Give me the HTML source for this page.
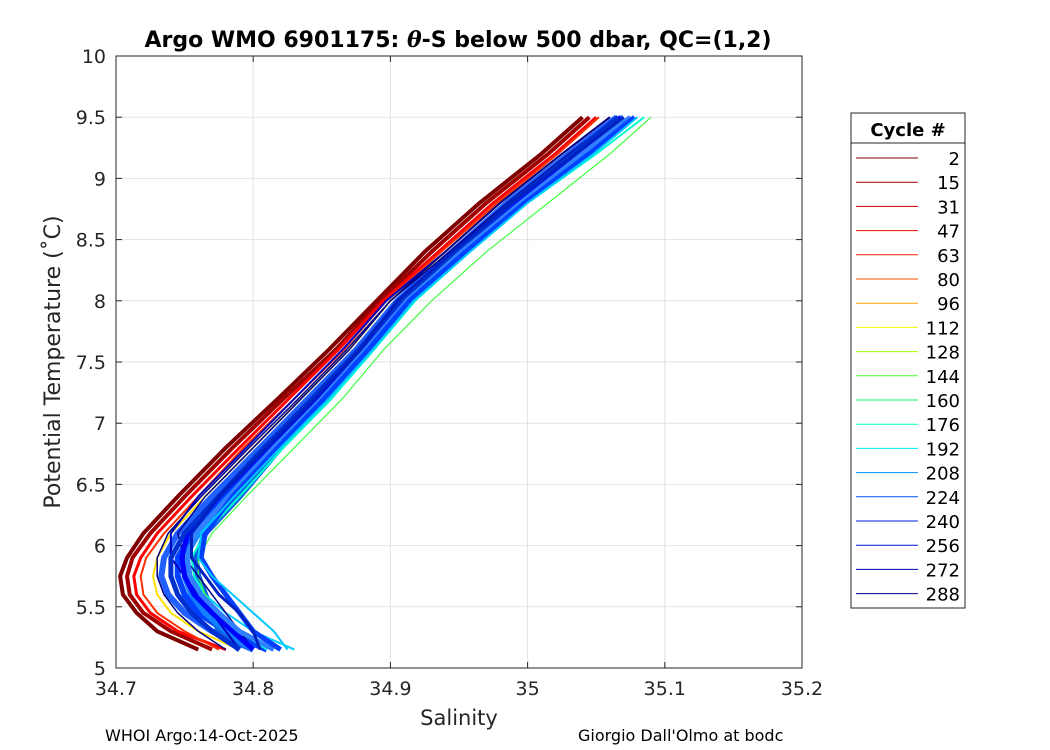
<!DOCTYPE html>
<html><head><meta charset="utf-8"><style>
body{margin:0;background:#fff;}
svg{display:block;font-family:"DejaVu Sans","Liberation Sans",sans-serif;}
</style></head><body>
<svg id="chart" width="1050" height="750"></svg>
<script>
const tempLevels=[5.15,5.3,5.45,5.6,5.75,5.9,6.1,6.4,6.8,7.2,7.6,8.0,8.4,8.8,9.2,9.5];
const profileColors=["#800000","#a00000","#ff0000","#ff3000","#ffe000","#2060ff","#0040ff","#0a60e0","#1080ff","#00d0ff","#00ffd0","#40ff40","#0000c0","#000090","#0000ff","#0030d0","#3080ff","#000080","#0040ff","#00c8ff","#0020c0"];
const profileWidths=[4,4,3,2,2,6,6,6,6,2,2,1.2,2,1.5,5,5,5,1.5,5,2,3];
const profileSal=[
[34.76,34.73,34.715,34.705,34.703,34.708,34.72,34.745,34.78,34.818,34.855,34.89,34.925,34.965,35.01,35.04],
[34.77,34.74,34.72,34.71,34.708,34.712,34.725,34.75,34.785,34.822,34.86,34.893,34.93,34.97,35.015,35.045],
[34.78,34.745,34.725,34.715,34.713,34.718,34.73,34.755,34.79,34.826,34.862,34.895,34.935,34.975,35.02,35.05],
[34.775,34.75,34.73,34.72,34.718,34.722,34.735,34.76,34.793,34.83,34.866,34.897,34.937,34.978,35.022,35.052],
[34.79,34.76,34.74,34.73,34.727,34.73,34.74,34.765,34.8,34.835,34.87,34.9,34.94,34.98,35.025,35.06],
[34.8,34.77,34.75,34.738,34.733,34.735,34.745,34.77,34.805,34.84,34.875,34.905,34.945,34.985,35.03,35.065],
[34.81,34.78,34.76,34.75,34.745,34.745,34.755,34.78,34.812,34.847,34.88,34.91,34.95,34.99,35.035,35.07],
[34.79,34.775,34.77,34.765,34.76,34.758,34.765,34.79,34.82,34.855,34.885,34.915,34.955,34.995,35.04,35.07],
[34.8,34.78,34.765,34.755,34.75,34.75,34.76,34.785,34.817,34.852,34.883,34.912,34.952,34.992,35.037,35.07],
[34.83,34.8,34.78,34.765,34.755,34.75,34.76,34.783,34.815,34.85,34.882,34.912,34.952,34.995,35.045,35.08],
[34.81,34.79,34.775,34.765,34.757,34.755,34.765,34.79,34.822,34.857,34.888,34.918,34.958,35.0,35.05,35.085],
[34.8,34.785,34.775,34.765,34.76,34.76,34.77,34.795,34.83,34.865,34.895,34.93,34.97,35.015,35.06,35.09],
[34.79,34.78,34.77,34.76,34.75,34.74,34.74,34.76,34.795,34.83,34.865,34.897,34.94,34.98,35.025,35.06],
[34.8,34.79,34.78,34.77,34.76,34.75,34.745,34.765,34.8,34.835,34.87,34.9,34.943,34.985,35.03,35.065],
[34.8,34.785,34.77,34.757,34.75,34.748,34.752,34.775,34.81,34.845,34.878,34.908,34.948,34.99,35.035,35.068],
[34.79,34.77,34.755,34.745,34.74,34.74,34.75,34.775,34.808,34.843,34.877,34.907,34.947,34.988,35.033,35.066],
[34.815,34.79,34.775,34.762,34.754,34.752,34.758,34.782,34.815,34.85,34.882,34.912,34.952,34.995,35.04,35.075],
[34.78,34.76,34.745,34.735,34.73,34.73,34.738,34.762,34.797,34.833,34.868,34.9,34.94,34.98,35.025,35.06],
[34.82,34.8,34.79,34.78,34.77,34.762,34.765,34.785,34.818,34.852,34.884,34.914,34.955,34.998,35.045,35.078],
[34.825,34.815,34.8,34.785,34.77,34.76,34.762,34.786,34.82,34.855,34.887,34.917,34.958,35.0,35.048,35.08],
[34.805,34.8,34.79,34.775,34.765,34.755,34.755,34.775,34.81,34.845,34.878,34.905,34.945,34.988,35.035,35.07]
];
const xTicks=[34.7,34.8,34.9,35,35.1,35.2];
const xTickLabels=["34.7","34.8","34.9","35","35.1","35.2"];
const yTicks=[5,5.5,6,6.5,7,7.5,8,8.5,9,9.5,10];
const yTickLabels=["5","5.5","6","6.5","7","7.5","8","8.5","9","9.5","10"];
const legendCycles=["2","15","31","47","63","80","96","112","128","144","160","176","192","208","224","240","256","272","288"];
const legendColors=["#800000","#a00000","#d00000","#e81000","#ff2000","#ff5000","#ffa000","#f0ff00","#a0ff00","#40ff20","#10ff60","#00ffc0","#00e8ff","#0090ff","#0050ff","#0020e0","#0010d0","#0000b0","#000090"];

const NS="http://www.w3.org/2000/svg";
const svg=document.getElementById("chart");
const L=116,R=802,T=56,B=668;
const sx=v=>L+(v-34.7)/(0.5)*(R-L);
const sy=v=>B-(v-5)/5*(B-T);
function mk(tag,attrs,parent){const e=document.createElementNS(NS,tag);for(const k in attrs)e.setAttribute(k,attrs[k]);(parent||svg).appendChild(e);return e;}

mk("rect",{x:L,y:T,width:R-L,height:B-T,fill:"#fff"});
xTicks.forEach((v,i)=>{
  const g=mk("line",{x1:sx(v),x2:sx(v),y1:T,y2:B,stroke:"#e2e2e2","stroke-width":1});
  
  
  mk("line",{x1:sx(v),x2:sx(v),y1:B,y2:B-6,stroke:"#262626"});
  mk("line",{x1:sx(v),x2:sx(v),y1:T,y2:T+6,stroke:"#262626"});
  const t=mk("text",{x:sx(v),y:B+27,"text-anchor":"middle","font-size":19,fill:"#262626"});
  t.textContent=xTickLabels[i];
  
  
});
yTicks.forEach((v,i)=>{
  const g=mk("line",{x1:L,x2:R,y1:sy(v),y2:sy(v),stroke:"#e2e2e2","stroke-width":1});
  
  
  mk("line",{x1:L,x2:L+6,y1:sy(v),y2:sy(v),stroke:"#262626"});
  mk("line",{x1:R,x2:R-6,y1:sy(v),y2:sy(v),stroke:"#262626"});
  const t=mk("text",{x:L-10,y:sy(v)+7,"text-anchor":"end","font-size":19,fill:"#262626"});
  t.textContent=yTickLabels[i];
  
  
});
profileSal.forEach((sal,p)=>{
  const pts=sal.map((s,i)=>sx(s).toFixed(1)+","+sy(tempLevels[i]).toFixed(1)).join(" ");
  const pl=mk("polyline",{points:pts,fill:"none",stroke:profileColors[p],"stroke-width":profileWidths[p],"stroke-linejoin":"round"});
  
  
});
mk("rect",{x:L,y:T,width:R-L,height:B-T,fill:"none",stroke:"#262626","stroke-width":1});

let t=mk("text",{x:458,y:47,"text-anchor":"middle","font-size":22,"font-weight":"bold",fill:"#000"});
t.innerHTML='Argo WMO 6901175: <tspan font-style="italic" font-family="DejaVu Serif">θ</tspan>-S below 500 dbar,  QC=(1,2)';
t.setAttribute('xml:space','preserve');


t=mk("text",{x:459,y:725,"text-anchor":"middle","font-size":21,fill:"#262626"});
t.textContent="Salinity";


t=mk("text",{x:0,y:0,"text-anchor":"middle","font-size":22,fill:"#262626",transform:"translate(60,362) rotate(-90)"});
t.textContent="Potential Temperature (˚C)";


t=mk("text",{x:105,y:741,"font-size":16,fill:"#000"});
t.textContent="WHOI Argo:14-Oct-2025";


t=mk("text",{x:578,y:741,"font-size":16,fill:"#000"});
t.textContent="Giorgio Dall'Olmo at bodc";



const lg=mk("g",{});


mk("rect",{x:851,y:113,width:114,height:495,fill:"#fff",stroke:"#262626"},lg);
mk("line",{x1:851,x2:965,y1:143,y2:143,stroke:"#262626"},lg);
t=mk("text",{x:908,y:136,"text-anchor":"middle","font-size":18,"font-weight":"bold",fill:"#000"},lg);
t.textContent="Cycle #";


legendCycles.forEach((c,i)=>{
  const y=158+i*24.2;
  const ln=mk("line",{x1:856,x2:918,y1:y,y2:y,stroke:legendColors[i],"stroke-width":1},lg);
  
  
  const tx=mk("text",{x:960,y:y+7,"text-anchor":"end","font-size":18,fill:"#000"},lg);
  tx.textContent=c;
  
  
});
</script>
</body></html>
